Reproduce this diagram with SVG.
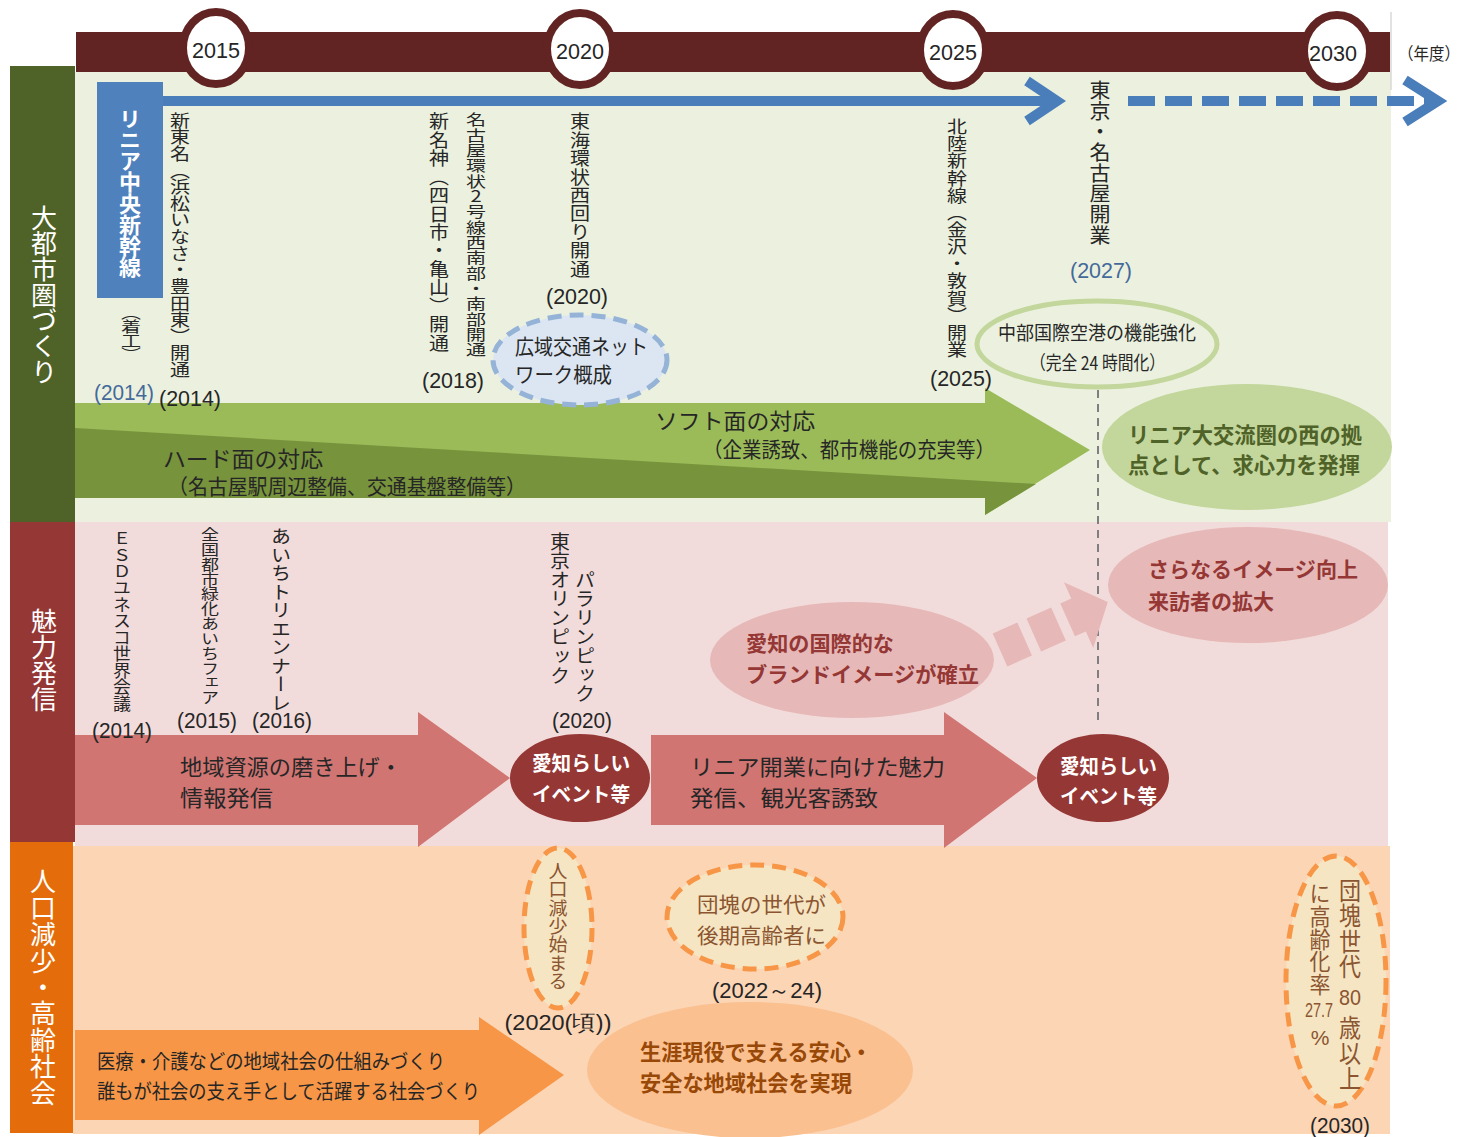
<svg xmlns="http://www.w3.org/2000/svg" width="1468" height="1137" viewBox="0 0 1468 1137">
<style>
text{font-family:"Noto Sans CJK JP","Noto Sans",sans-serif;fill:#262626;}
.num{font-family:"Liberation Sans",Arial,sans-serif;font-size:22px;}
.v{writing-mode:vertical-rl;}
.c{dominant-baseline:central;}
.up{text-orientation:upright;}
.side{fill:#ffffff;font-size:26px;}
.yr{fill:#ffffff;stroke:#622423;stroke-width:8;}
.blue{fill:#44699b;}
.wb{fill:#ffffff;font-weight:bold;font-size:20px;}
.gb{fill:#4f6228;font-weight:bold;font-size:22px;}
.pb{fill:#953735;font-weight:bold;font-size:21px;}
.ob{fill:#984807;font-weight:bold;font-size:22px;}
.br{fill:#8a5530;}
.dash-o{fill:#f6e5c3;stroke:#f79646;stroke-width:5;stroke-dasharray:14 8;}
</style>
<rect width="1468" height="1137" fill="#ffffff"/>

<g id="panels">
  <rect x="75" y="72" width="1316" height="450" fill="#ebf1de"/>
  <rect x="75" y="522" width="1313" height="324" fill="#f2dcdb"/>
  <rect x="73" y="846" width="1317" height="288" fill="#fcd5b5"/>
</g>

<g id="side-daitoshi">
  <rect x="10" y="66" width="65" height="456" fill="#4f6228"/>
  <text class="v side" x="44" y="205" textLength="180" lengthAdjust="spacingAndGlyphs">大都市圏づくり</text>
</g>
<g id="side-miryoku">
  <rect x="10" y="522" width="65" height="320" fill="#953735"/>
  <text class="v side" x="44" y="608" textLength="104" lengthAdjust="spacingAndGlyphs">魅力発信</text>
</g>
<g id="side-jinko">
  <rect x="10" y="842" width="63" height="291" fill="#e46c0a"/>
  <text class="v side" x="43" y="868" textLength="238" lengthAdjust="spacingAndGlyphs">人口減少・高齢社会</text>
</g>

<g id="timeline">
  <rect x="76" y="32" width="1314" height="40" fill="#622423"/>
  <line x1="1391" y1="12" x2="1391" y2="90" stroke="#d9d9d9" stroke-width="1.5"/>
  <ellipse class="yr" cx="216" cy="48" rx="33" ry="36"/>
  <ellipse class="yr" cx="580" cy="49" rx="33" ry="36"/>
  <ellipse class="yr" cx="953" cy="50" rx="33" ry="36"/>
  <ellipse class="yr" cx="1337" cy="51" rx="33" ry="36"/>
  <text class="num c" x="216" y="50" text-anchor="middle" font-size="24" textLength="48" lengthAdjust="spacingAndGlyphs">2015</text>
  <text class="num c" x="580" y="51" text-anchor="middle" font-size="24" textLength="48" lengthAdjust="spacingAndGlyphs">2020</text>
  <text class="num c" x="953" y="52" text-anchor="middle" font-size="24" textLength="48" lengthAdjust="spacingAndGlyphs">2025</text>
  <text class="num c" x="1333" y="53" text-anchor="middle" font-size="24" textLength="48" lengthAdjust="spacingAndGlyphs">2030</text>
  <text class="c" x="1398" y="52" font-size="17" textLength="62" lengthAdjust="spacingAndGlyphs">（年度）</text>
</g>

<g id="green-arrow">
  <polygon points="75,403 985,403 985,388 1090,450 985,515 985,498 75,498" fill="#9bbb59"/>
  <polygon points="75,428 1036,484 985,515 985,498 75,498" fill="#77933c"/>
  <text class="c" x="163" y="457" font-size="22" textLength="160" lengthAdjust="spacingAndGlyphs">ハード面の対応</text>
  <text class="c" x="168" y="485" font-size="21" textLength="358" lengthAdjust="spacingAndGlyphs">（名古屋駅周辺整備、交通基盤整備等）</text>
  <text class="c" x="655" y="419" font-size="22" textLength="160" lengthAdjust="spacingAndGlyphs">ソフト面の対応</text>
  <text class="c" x="703" y="448" font-size="21" textLength="292" lengthAdjust="spacingAndGlyphs">（企業誘致、都市機能の充実等）</text>
</g>

<g id="pink-arrow-1">
  <polygon points="75,735 418,735 418,712 510,778 418,847 418,825 75,825" fill="#d07572"/>
  <text class="c" x="180" y="765" font-size="22" fill="#3a2a2a" textLength="222" lengthAdjust="spacingAndGlyphs">地域資源の磨き上げ・</text>
  <text class="c" x="180" y="796" font-size="22" textLength="93" lengthAdjust="spacingAndGlyphs">情報発信</text>
</g>
<g id="pink-arrow-2">
  <polygon points="651,735 944,735 944,712 1037,778 944,848 944,825 651,825" fill="#d07572"/>
  <text class="c" x="690" y="765" font-size="22" textLength="255" lengthAdjust="spacingAndGlyphs">リニア開業に向けた魅力</text>
  <text class="c" x="690" y="796" font-size="22" textLength="188" lengthAdjust="spacingAndGlyphs">発信、観光客誘致</text>
</g>

<g id="connectors">
  <line x1="163" y1="101" x2="1052" y2="101" stroke="#4a7ebb" stroke-width="10"/>
  <polyline points="1027,81 1057,101 1027,121" fill="none" stroke="#4a7ebb" stroke-width="10"/>
  <line x1="1128" y1="101" x2="1432" y2="101" stroke="#4a7ebb" stroke-width="10" stroke-dasharray="27 10"/>
  <polyline points="1405,80 1438,101 1405,122" fill="none" stroke="#4a7ebb" stroke-width="10"/>
  <line x1="1098" y1="390" x2="1098" y2="726" stroke="#7f7f7f" stroke-width="2" stroke-dasharray="8 6"/>
  <g transform="translate(1000,650) rotate(-24)" fill="#e6b9b8">
    <rect x="0" y="-18" width="27" height="36"/>
    <rect x="37" y="-18" width="27" height="36"/>
    <polygon points="74,-18 86,-18 86,-36 118,0 86,36 86,18 74,18"/>
  </g>
</g>

<g id="linear">
  <rect x="97" y="82" width="66" height="216" fill="#4f81bd"/>
  <text class="v" x="130" y="108" font-size="22" font-weight="bold" style="fill:#ffffff" textLength="170" lengthAdjust="spacingAndGlyphs">リニア中央新幹線</text>
  <text class="v" x="131" y="305" font-size="20" textLength="57" lengthAdjust="spacingAndGlyphs">（着工）</text>
  <text class="num c blue" x="124" y="392" text-anchor="middle" textLength="60" lengthAdjust="spacingAndGlyphs">(2014)</text>
</g>

<g id="shintomei">
  <text class="v" x="180" y="112" font-size="20" textLength="266" lengthAdjust="spacingAndGlyphs">新東名（浜松いなさ・豊田東）開通</text>
  <text class="num c" x="190" y="398" text-anchor="middle" textLength="62" lengthAdjust="spacingAndGlyphs">(2014)</text>
</g>
<g id="shinmeishin">
  <text class="v" x="439" y="112" font-size="20" textLength="240" lengthAdjust="spacingAndGlyphs">新名神（四日市・亀山）開通</text>
  <text class="v up" x="476" y="112" font-size="20" textLength="245" lengthAdjust="spacingAndGlyphs">名古屋環状2号線西南部・南部開通</text>
  <text class="num c" x="453" y="380" text-anchor="middle" textLength="62" lengthAdjust="spacingAndGlyphs">(2018)</text>
</g>
<g id="tokai">
  <text class="v" x="580" y="112" font-size="20" textLength="166" lengthAdjust="spacingAndGlyphs">東海環状西回り開通</text>
  <text class="num c" x="577" y="296" text-anchor="middle" textLength="62" lengthAdjust="spacingAndGlyphs">(2020)</text>
</g>
<g id="hokuriku">
  <text class="v" x="957" y="118" font-size="20" textLength="240" lengthAdjust="spacingAndGlyphs">北陸新幹線（金沢・敦賀）開業</text>
  <text class="num c" x="961" y="378" text-anchor="middle" textLength="62" lengthAdjust="spacingAndGlyphs">(2025)</text>
</g>
<g id="tokyo-nagoya">
  <text class="v" x="1100" y="80" font-size="21" textLength="165" lengthAdjust="spacingAndGlyphs">東京・名古屋開業</text>
  <text class="num c blue" x="1101" y="270" text-anchor="middle" textLength="62" lengthAdjust="spacingAndGlyphs">(2027)</text>
</g>

<g id="kouiki">
  <ellipse cx="580" cy="360" rx="87" ry="45" fill="#dce6f2" stroke="#95b3d7" stroke-width="5" stroke-dasharray="14 8"/>
  <text class="c" x="515" y="345" font-size="21" textLength="133" lengthAdjust="spacingAndGlyphs">広域交通ネット</text>
  <text class="c" x="515" y="373" font-size="21" textLength="97" lengthAdjust="spacingAndGlyphs">ワーク概成</text>
</g>
<g id="airport">
  <ellipse cx="1097" cy="344" rx="120" ry="43" fill="#ebf1de" stroke="#c3d69b" stroke-width="5"/>
  <text class="c" x="998" y="331" font-size="19" textLength="198" lengthAdjust="spacingAndGlyphs">中部国際空港の機能強化</text>
  <text class="c" x="1030" y="361" font-size="19" textLength="135" lengthAdjust="spacingAndGlyphs">（完全 24 時間化）</text>
</g>

<g id="linear-kyoten">
  <ellipse cx="1247" cy="447" rx="145" ry="63" fill="#c3d69b"/>
  <text class="c gb" x="1128" y="433" textLength="234" lengthAdjust="spacingAndGlyphs">リニア大交流圏の西の拠</text>
  <text class="c gb" x="1128" y="463" textLength="232" lengthAdjust="spacingAndGlyphs">点として、求心力を発揮</text>
</g>

<g id="events">
  <text class="v" x="122" y="530" font-size="18" textLength="182" lengthAdjust="spacingAndGlyphs">ＥＳＤユネスコ世界会議</text>
  <text class="num c" x="122" y="730" text-anchor="middle" textLength="60" lengthAdjust="spacingAndGlyphs">(2014)</text>
  <text class="v" x="210" y="527" font-size="18" textLength="178" lengthAdjust="spacingAndGlyphs">全国都市緑化あいちフェア</text>
  <text class="num c" x="207" y="720" text-anchor="middle" textLength="60" lengthAdjust="spacingAndGlyphs">(2015)</text>
  <text class="v" x="281" y="527" font-size="20" textLength="185" lengthAdjust="spacingAndGlyphs">あいちトリエンナーレ</text>
  <text class="num c" x="282" y="720" text-anchor="middle" textLength="60" lengthAdjust="spacingAndGlyphs">(2016)</text>
  <text class="v" x="560" y="532" font-size="20" textLength="153" lengthAdjust="spacingAndGlyphs">東京オリンピック</text>
  <text class="v" x="585" y="570" font-size="20" textLength="133" lengthAdjust="spacingAndGlyphs">パラリンピック</text>
  <text class="num c" x="582" y="720" text-anchor="middle" textLength="60" lengthAdjust="spacingAndGlyphs">(2020)</text>
</g>

<g id="event-2020">
  <ellipse cx="580" cy="778" rx="70" ry="44" fill="#953735"/>
  <text class="c wb" x="532" y="762" textLength="98" lengthAdjust="spacingAndGlyphs">愛知らしい</text>
  <text class="c wb" x="532" y="793" textLength="98" lengthAdjust="spacingAndGlyphs">イベント等</text>
</g>
<g id="event-2027">
  <ellipse cx="1103" cy="778" rx="66" ry="44" fill="#953735"/>
  <text class="c wb" x="1060" y="765" textLength="97" lengthAdjust="spacingAndGlyphs">愛知らしい</text>
  <text class="c wb" x="1060" y="795" textLength="97" lengthAdjust="spacingAndGlyphs">イベント等</text>
</g>
<g id="brand">
  <ellipse cx="852" cy="660" rx="142" ry="58" fill="#e6b9b8"/>
  <text class="c pb" x="746" y="642" textLength="148" lengthAdjust="spacingAndGlyphs">愛知の国際的な</text>
  <text class="c pb" x="746" y="673" textLength="233" lengthAdjust="spacingAndGlyphs">ブランドイメージが確立</text>
</g>
<g id="image-up">
  <ellipse cx="1248" cy="585" rx="140" ry="58" fill="#e6b9b8"/>
  <text class="c pb" x="1148" y="568" textLength="210" lengthAdjust="spacingAndGlyphs">さらなるイメージ向上</text>
  <text class="c pb" x="1148" y="600" textLength="126" lengthAdjust="spacingAndGlyphs">来訪者の拡大</text>
</g>

<g id="orange-arrow">
  <polygon points="75,1030 479,1030 479,1017 564,1075 479,1135 479,1120 75,1120" fill="#f79646"/>
  <text class="c" x="97" y="1060" font-size="20" textLength="348" lengthAdjust="spacingAndGlyphs">医療・介護などの地域社会の仕組みづくり</text>
  <text class="c" x="97" y="1090" font-size="20" textLength="383" lengthAdjust="spacingAndGlyphs">誰もが社会の支え手として活躍する社会づくり</text>
</g>
<g id="jinko-gensho">
  <ellipse class="dash-o" cx="558" cy="928" rx="34" ry="80"/>
  <text class="v br" x="558" y="862" font-size="19" textLength="128" lengthAdjust="spacingAndGlyphs">人口減少始まる</text>
  <text class="num c" x="558" y="1022" text-anchor="middle" textLength="107" lengthAdjust="spacingAndGlyphs">(2020(頃))</text>
</g>
<g id="dankai">
  <ellipse class="dash-o" cx="755" cy="917" rx="88" ry="52"/>
  <text class="c br" x="697" y="903" font-size="21" textLength="129" lengthAdjust="spacingAndGlyphs">団塊の世代が</text>
  <text class="c br" x="697" y="934" font-size="21" textLength="129" lengthAdjust="spacingAndGlyphs">後期高齢者に</text>
  <text class="num c" x="767" y="990" text-anchor="middle" textLength="110" lengthAdjust="spacingAndGlyphs">(2022～24)</text>
</g>
<g id="shogai">
  <ellipse cx="750" cy="1070" rx="163" ry="68" fill="#fac090"/>
  <text class="c ob" x="640" y="1050" textLength="232" lengthAdjust="spacingAndGlyphs">生涯現役で支える安心・</text>
  <text class="c ob" x="640" y="1081" textLength="212" lengthAdjust="spacingAndGlyphs">安全な地域社会を実現</text>
</g>
<g id="koreika">
  <ellipse class="dash-o" cx="1336" cy="981" rx="50" ry="125"/>
  <text class="v br" x="1350" y="878" font-size="22" textLength="101" lengthAdjust="spacingAndGlyphs">団塊世代</text>
  <text class="c br" x="1350" y="997" font-size="22" text-anchor="middle" style="font-family:'Liberation Sans',sans-serif" textLength="22" lengthAdjust="spacingAndGlyphs">80</text>
  <text class="v br" x="1350" y="1015" font-size="22" textLength="76" lengthAdjust="spacingAndGlyphs">歳以上</text>
  <text class="v br" x="1320" y="882" font-size="21" textLength="114" lengthAdjust="spacingAndGlyphs">に高齢化率</text>
  <text class="c br" x="1319" y="1010" font-size="20" text-anchor="middle" style="font-family:'Liberation Sans',sans-serif" textLength="28" lengthAdjust="spacingAndGlyphs">27.7</text>
  <text class="c br" x="1320" y="1037" font-size="21" text-anchor="middle" style="font-family:'Liberation Sans',sans-serif">%</text>
  <text class="num c" x="1340" y="1125" text-anchor="middle" textLength="60" lengthAdjust="spacingAndGlyphs">(2030)</text>
</g>
</svg>
